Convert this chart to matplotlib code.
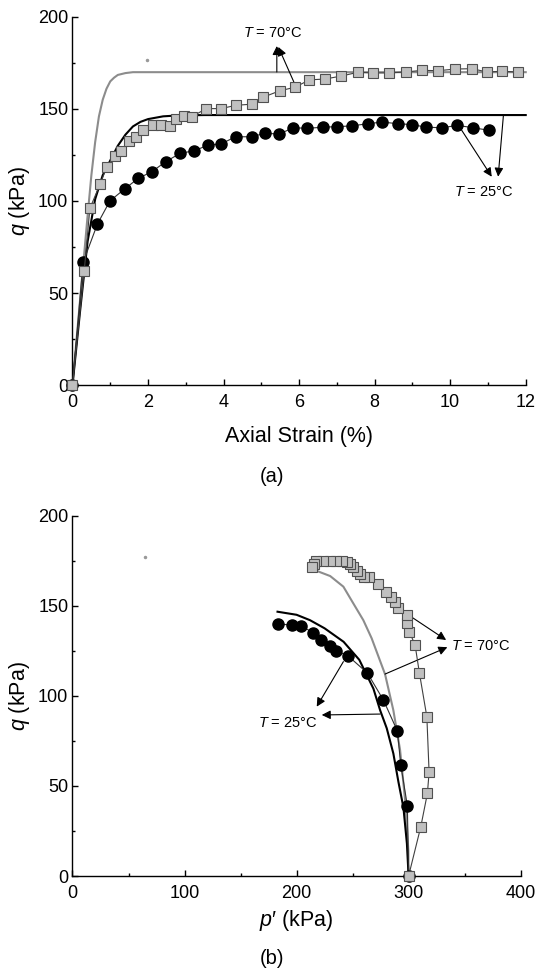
import matplotlib
matplotlib.use("Agg")
import matplotlib.pyplot as plt
from matplotlib.ticker import MultipleLocator

plt.rcParams["font.family"] = ["Liberation Sans", "DejaVu Sans"]
plt.rcParams["mathtext.fontset"] = "custom"
plt.rcParams["mathtext.rm"] = "Liberation Sans"
plt.rcParams["mathtext.it"] = "Liberation Sans:italic"

# (a) deviator stress vs axial strain
strain_70 = [0, 0.31, 0.46, 0.73, 0.91, 1.13, 1.28, 1.50, 1.68, 1.87, 2.12, 2.34, 2.58,
             2.73, 2.96, 3.16, 3.54, 3.93, 4.33, 4.74, 5.05, 5.49, 5.89, 6.27, 6.69,
             7.12, 7.55, 7.96, 8.38, 8.83, 9.25, 9.68, 10.14, 10.58, 10.97, 11.37, 11.79]
q_70 = [0, 61.9, 96.0, 109.1, 118.6, 124.5, 127.3, 132.8, 134.9, 138.6, 141.1, 141.1, 140.8,
        144.7, 146.2, 145.8, 150.2, 150.2, 152.0, 152.6, 156.4, 159.9, 161.8, 165.8, 166.3,
        167.9, 169.9, 169.6, 169.6, 170.1, 171.0, 170.8, 171.7, 171.9, 170.1, 170.5, 170.1]

strain_25 = [0, 0.28, 0.66, 0.99, 1.39, 1.74, 2.10, 2.47, 2.85, 3.22, 3.60, 3.93, 4.32,
             4.74, 5.10, 5.47, 5.85, 6.22, 6.64, 7.00, 7.39, 7.82, 8.20, 8.61, 9.00,
             9.36, 9.79, 10.19, 10.61, 11.03]
q_25 = [0, 66.6, 87.5, 100.0, 106.7, 112.3, 115.9, 121.4, 125.9, 127.3, 130.4, 131.0, 134.9,
        134.9, 136.8, 136.4, 139.8, 139.5, 140.1, 140.4, 140.8, 142.0, 142.9, 142.0, 141.5,
        140.1, 139.8, 141.1, 139.8, 138.4]

model_strain_70 = [0, 0.2, 0.4, 0.5, 0.6, 0.7, 0.8, 0.9, 1.0, 1.1, 1.2, 1.4, 1.6, 1.8, 2.0, 3.0, 12.0]
model_q_70 = [0, 46, 92, 114, 132, 146, 155, 161, 165, 167, 168.5, 169.5, 170, 170, 170, 170, 170]

model_strain_25 = [0, 0.2, 0.4, 0.6, 0.8, 1.0, 1.2, 1.4, 1.6, 1.8, 2.0, 2.4, 2.8, 3.5, 12.0]
model_q_25 = [0, 40, 78, 101, 114, 122, 130, 136, 140.5, 143, 144.5, 146, 146.5, 146.7, 146.7]

# (b) stress paths
p_70 = [300, 310.9, 316.8, 318.3, 316.3, 309.6, 305.8, 300.7, 298.4, 298.4, 290.9, 288.0,
        284.4, 279.6, 273.0, 265.0, 260.3, 256.7, 253.8, 250.2, 247.8, 244.8, 240.3,
        235.3, 229.9, 223.9, 217.4, 215.6, 213.6]
qp_70 = [0, 27.4, 45.9, 57.6, 88.4, 112.9, 128.2, 135.6, 140.3, 144.9, 148.6, 152.3,
         155.0, 157.8, 162.1, 166.1, 165.8, 167.6, 169.5, 171.7, 173.2, 174.3, 175.0,
         175.0, 175.0, 175.0, 175.0, 173.2, 171.3]

p_25 = [300, 298.9, 293.0, 290.0, 277.5, 263.2, 245.7, 235.3, 229.9, 221.9, 215.0,
        203.8, 195.7, 183.8]
qp_25 = [0, 39.0, 61.8, 80.5, 97.7, 112.7, 122.3, 124.9, 127.7, 131.0, 135.1,
         138.8, 139.3, 139.9]

model_p_70 = [300, 299.8, 298.5, 296.9, 292.4, 286.4, 279.0, 267.0, 259.6, 250.0, 241.8, 230.0, 219.5, 214.0]
model_qp_70 = [0, 14, 28, 42, 70, 92, 112, 132, 142, 152, 160.6, 166.5, 169, 171]

model_p_25 = [300, 298.5, 295.4, 291.0, 286.4, 280.5, 274.6, 268.6, 256.0, 242.0, 225.0, 212.0, 200.0, 183.0]
model_qp_25 = [0, 18, 38, 52, 68, 82, 92, 104, 120, 130, 137.5, 142, 145, 146.7]

stray_a = (1.96, 176.6)
stray_b = (64.7, 176.9)

fig = plt.figure(figsize=(5.37, 9.75), dpi=100)
ax1 = fig.add_axes([0.135, 0.6051, 0.844, 0.3775])
ax2 = fig.add_axes([0.135, 0.1015, 0.8345, 0.3696])

sq = dict(marker="s", ms=7, mfc="#c0c0c0", mec="#505050", mew=0.8,
          color="#404040", lw=0.8, clip_on=False, zorder=4)
ci = dict(marker="o", ms=8, mfc="black", mec="black", color="#303030",
          lw=0.8, clip_on=False, zorder=3)
arrow = dict(arrowstyle="-|>", color="black", lw=0.8, mutation_scale=13,
             shrinkA=0, shrinkB=0)

# panel (a)
ax1.plot(model_strain_70, model_q_70, color="#8c8c8c", lw=1.5, zorder=2, clip_on=False)
ax1.plot(model_strain_25, model_q_25, color="black", lw=1.5, zorder=2, clip_on=False)
ax1.plot(strain_25, q_25, **ci)
ax1.plot(strain_70, q_70, **sq)
ax1.plot(*stray_a, marker="o", ms=1.5, color="#999999")

ax1.text(5.31, 191.1, "$T$ = 70°C", fontsize=10.5, ha="center", va="center")
ax1.annotate("", xy=(5.41, 184.2), xytext=(5.41, 170.1), arrowprops=arrow)
ax1.annotate("", xy=(5.45, 183.7), xytext=(5.86, 164.7), arrowprops=arrow)
ax1.text(10.88, 105.1, "$T$ = 25°C", fontsize=10.5, ha="center", va="center")
ax1.annotate("", xy=(11.10, 113.2), xytext=(10.30, 138.6), arrowprops=arrow)
ax1.annotate("", xy=(11.27, 113.2), xytext=(11.41, 146.7), arrowprops=arrow)

ax1.set_xlim(0, 12)
ax1.set_ylim(0, 200)
ax1.xaxis.set_major_locator(MultipleLocator(2))
ax1.xaxis.set_minor_locator(MultipleLocator(1))
ax1.set_xlabel("Axial Strain (%)", fontsize=15.5)
ax1.xaxis.set_label_coords(0.5, -0.11)

# panel (b)
ax2.plot(model_p_70, model_qp_70, color="#8c8c8c", lw=1.5, zorder=2)
ax2.plot(model_p_25, model_qp_25, color="black", lw=1.5, zorder=2)
ax2.plot(p_25, qp_25, **ci)
ax2.plot(p_70, qp_70, **sq)
ax2.plot(*stray_b, marker="o", ms=1.5, color="#999999")

ax2.text(364.7, 127.7, "$T$ = 70°C", fontsize=10.5, ha="center", va="center")
ax2.annotate("", xy=(333.5, 131.0), xytext=(301.3, 144.3), arrowprops=arrow)
ax2.annotate("", xy=(334.6, 127.0), xytext=(279.0, 112.1), arrowprops=arrow)
ax2.text(192.0, 85.1, "$T$ = 25°C", fontsize=10.5, ha="center", va="center")
ax2.annotate("", xy=(218.0, 94.0), xytext=(241.8, 119.0), arrowprops=arrow)
ax2.annotate("", xy=(222.5, 89.4), xytext=(274.6, 89.9), arrowprops=arrow)

ax2.set_xlim(0, 400)
ax2.set_ylim(0, 200)
ax2.xaxis.set_major_locator(MultipleLocator(100))
ax2.xaxis.set_minor_locator(MultipleLocator(50))
ax2.set_xlabel("$p$\u2032 (kPa)", fontsize=15.5)
ax2.xaxis.set_label_coords(0.5, -0.09)

for ax in (ax1, ax2):
    for s in ("top", "right"):
        ax.spines[s].set_visible(False)
    for s in ("left", "bottom"):
        ax.spines[s].set_linewidth(1.0)
    ax.yaxis.set_major_locator(MultipleLocator(50))
    ax.yaxis.set_minor_locator(MultipleLocator(25))
    ax.tick_params(which="both", direction="in", width=1.0, labelsize=13)
    ax.tick_params(which="major", length=4.5)
    ax.tick_params(which="minor", length=2.5)
    ax.tick_params(axis="x", pad=6.5)
    ax.tick_params(axis="y", pad=3)
    ax.set_ylabel("$q$ (kPa)", fontsize=15.5)
    ax.yaxis.set_label_coords(-0.09, 0.5)

fig.text(272 / 537, 1 - 476 / 975, "(a)", fontsize=14.5, ha="center", va="center")
fig.text(272 / 537, 1 - 959 / 975, "(b)", fontsize=14.5, ha="center", va="center")

fig.savefig("out.png", dpi=100, facecolor="white")
